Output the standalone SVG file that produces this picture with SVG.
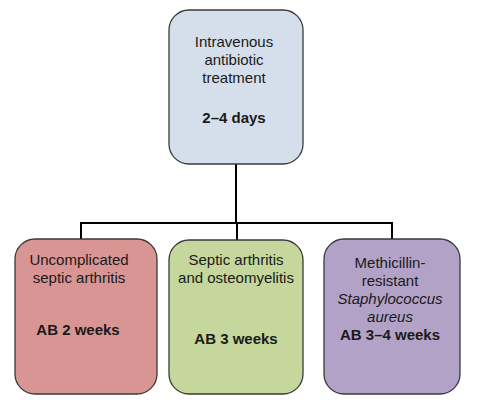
<svg xmlns="http://www.w3.org/2000/svg" width="477" height="404" viewBox="0 0 477 404">
<style>
.box{stroke:#3a3a3a;stroke-width:1.3}
.t{font-family:"Liberation Sans",Arial,sans-serif;font-size:15px;fill:#1a1a1a;text-anchor:middle}
.b{font-weight:bold}
.i{font-style:italic}
.c{fill:none;stroke:#000;stroke-width:2}
</style>
<rect width="477" height="404" fill="#fff"/>
<g id="connectors">
<path class="c" d="M236 164 V223 M81 240 V223 H392 V240 M237 223 V240"/>
</g>
<g id="top">
<rect class="box" x="169" y="10" width="134" height="154" rx="20" fill="#d5dfec"/>
<text class="t" x="234" y="47">Intravenous</text>
<text class="t" x="234" y="65">antibiotic</text>
<text class="t" x="234" y="83">treatment</text>
<text class="t b" x="234" y="123">2–4 days</text>
</g>
<g id="left">
<rect class="box" x="15" y="239" width="142" height="155" rx="20" fill="#d99594"/>
<text class="t" x="79" y="265">Uncomplicated</text>
<text class="t" x="79" y="283">septic arthritis</text>
<text class="t b" x="78" y="335">AB 2 weeks</text>
</g>
<g id="middle">
<rect class="box" x="169" y="240" width="134" height="154" rx="20" fill="#c5d79c"/>
<text class="t" x="236" y="265">Septic arthritis</text>
<text class="t" x="236" y="283">and osteomyelitis</text>
<text class="t b" x="236" y="344">AB 3 weeks</text>
</g>
<g id="right">
<rect class="box" x="324" y="239" width="136" height="155" rx="20" fill="#b3a2c7"/>
<text class="t" x="390" y="268">Methicillin-</text>
<text class="t" x="390" y="286">resistant</text>
<text class="t i" x="390" y="304">Staphylococcus</text>
<text class="t i" x="390" y="322">aureus</text>
<text class="t b" x="390" y="340">AB 3–4 weeks</text>
</g>
</svg>
